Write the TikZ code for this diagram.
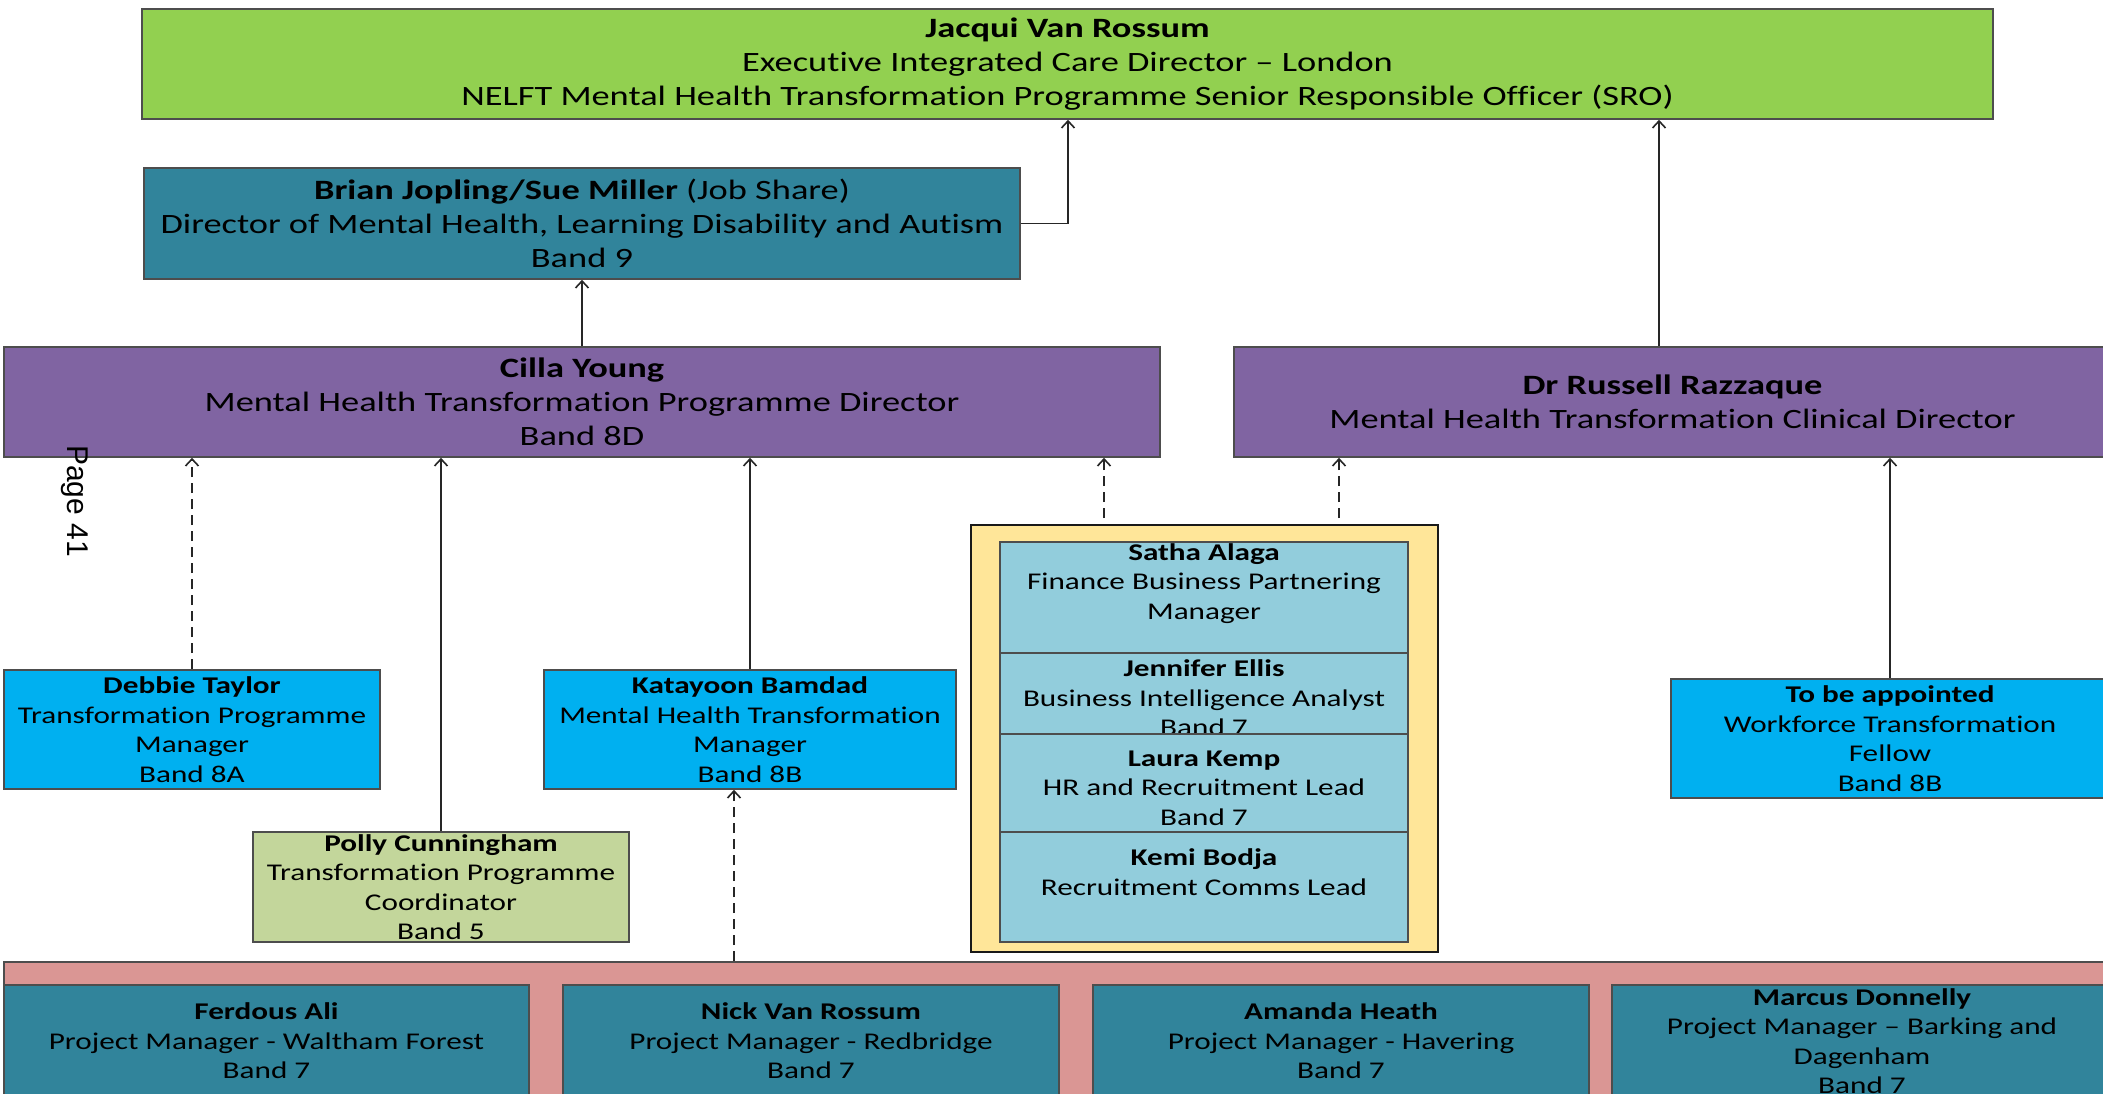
\documentclass[tikz,border=0pt]{standalone}
\usepackage{fontspec}
\setmainfont{Carlito}[FakeStretch=1.3, Ligatures={NoCommon}]
\newfontfamily\pagefont{Liberation Sans}
\usetikzlibrary{arrows.meta}

\definecolor{execgreen}{HTML}{92D050}
\definecolor{tealdark}{HTML}{31849B}
\definecolor{purplebox}{HTML}{8064A2}
\definecolor{skyblue}{HTML}{00B0F0}
\definecolor{olivelight}{HTML}{C3D69B}
\definecolor{teampale}{HTML}{FFE699}
\definecolor{aqualight}{HTML}{92CDDC}
\definecolor{rosebar}{HTML}{DA9694}
\definecolor{edgegray}{HTML}{4D4D4D}

\begin{document}
\begin{tikzpicture}[x=1pt,y=-1pt,
  box/.style={draw=edgegray, line width=1.6pt, rectangle, inner sep=0pt, align=center, text=black},
  bigtext/.style={font=\fontsize{28}{34}\selectfont},
  smalltext/.style={font=\fontsize{24}{29.5}\selectfont},
  lbl/.style={inner sep=0pt, align=center, text=black, font=\fontsize{24}{29.5}\selectfont},
  link/.style={line width=1.6pt, draw=black!85, -{Straight Barb[length=7pt,width=13pt,line width=1.6pt]}},
  dashlink/.style={link, dash pattern=on 10pt off 6pt},
]
\useasboundingbox (0,0) rectangle (2103,1093);
\fill[white] (0,0) rectangle (2103,1093);
\clip (0,0) rectangle (2103,1093);

% senior leadership
\node[box, bigtext, fill=execgreen, minimum width=1851pt, minimum height=110pt] (jacqui) at (1067.5,64)
  {\textbf{Jacqui Van Rossum}\\Executive Integrated Care Director – London\\NELFT Mental Health Transformation Programme Senior Responsible Officer (SRO)};
\node[box, bigtext, fill=tealdark, minimum width=876pt, minimum height=111pt] (brian) at (582,223.5)
  {\textbf{Brian Jopling/Sue Miller} (Job Share)\\Director of Mental Health, Learning Disability and Autism\\Band 9};
\node[box, bigtext, fill=purplebox, minimum width=1156pt, minimum height=110pt] (cilla) at (582,402)
  {\textbf{Cilla Young}\\Mental Health Transformation Programme Director\\Band 8D};
\node[box, bigtext, fill=purplebox, minimum width=877pt, minimum height=110pt] (russell) at (1672.5,402)
  {\textbf{Dr Russell Razzaque}\\Mental Health Transformation Clinical Director};

% programme team
\node[box, smalltext, fill=skyblue, minimum width=376pt, minimum height=119pt] (debbie) at (192,729.5)
  {\textbf{Debbie Taylor}\\Transformation Programme\\Manager\\Band 8A};
\node[box, smalltext, fill=skyblue, minimum width=412pt, minimum height=119pt] (katayoon) at (750,729.5)
  {\textbf{Katayoon Bamdad}\\Mental Health Transformation\\Manager\\Band 8B};
\node[box, smalltext, fill=olivelight, minimum width=376pt, minimum height=110pt] (polly) at (441,887)
  {\textbf{Polly Cunningham}\\Transformation Programme\\Coordinator\\Band 5};
\node[box, smalltext, fill=skyblue, minimum width=438pt, minimum height=119pt] (tba) at (1890,738.5)
  {\textbf{To be appointed}\\Workforce Transformation\\Fellow\\Band 8B};

% support team panel
\node[draw=black!90, line width=2.2pt, fill=teampale, minimum width=467pt, minimum height=427pt, inner sep=0pt] (team) at (1204.5,738.5) {};
\node[box, fill=aqualight, minimum width=408pt, minimum height=111pt] (satha) at (1204,597.5) {};
\node[lbl] (sathatxt) at (1204,583.5) {\textbf{Satha Alaga}\\Finance Business Partnering\\Manager};
\node[box, fill=aqualight, minimum width=408pt, minimum height=81pt] (jennifer) at (1204,693.5) {};
\node[lbl] (jennifertxt) at (1204,698) {\textbf{Jennifer Ellis}\\Business Intelligence Analyst\\Band 7};
\node[box, fill=aqualight, minimum width=408pt, minimum height=98pt] (laura) at (1204,783) {};
\node[lbl] (lauratxt) at (1204,788) {\textbf{Laura Kemp}\\HR and Recruitment Lead\\Band 7};
\node[box, fill=aqualight, minimum width=408pt, minimum height=110pt] (kemi) at (1204,887) {};
\node[lbl] (kemitxt) at (1204,872) {\textbf{Kemi Bodja}\\Recruitment Comms Lead};

% borough project managers
\node[box, fill=rosebar, minimum width=2106pt, minimum height=140pt] (projects) at (1057,1032) {};
\node[box, smalltext, fill=tealdark, minimum width=525pt, minimum height=112pt] (ferdous) at (266.5,1041)
  {\textbf{Ferdous Ali}\\Project Manager - Waltham Forest\\Band 7};
\node[box, smalltext, fill=tealdark, minimum width=496pt, minimum height=112pt] (nick) at (811,1041)
  {\textbf{Nick Van Rossum}\\Project Manager - Redbridge\\Band 7};
\node[box, smalltext, fill=tealdark, minimum width=496pt, minimum height=112pt] (amanda) at (1341,1041)
  {\textbf{Amanda Heath}\\Project Manager - Havering\\Band 7};
\node[box, smalltext, fill=tealdark, minimum width=500pt, minimum height=112pt] (marcus) at (1862,1041)
  {\textbf{Marcus Donnelly}\\Project Manager – Barking and\\Dagenham\\Band 7};

% connector anchors
\coordinate (bx) at (1068,0);
\coordinate (rx) at (1659,0);
\coordinate (ty1) at (1104,518);
\coordinate (ty2) at (1339,518);
\coordinate (px) at (734,0);

% reporting lines
\draw[link] (brian.east) -| (jacqui.south -| bx);
\draw[link] (cilla.north) -- (brian.south);
\draw[link] (russell.north -| rx) -- (jacqui.south -| rx);
\draw[dashlink] (debbie.north) -- (debbie.north |- cilla.south);
\draw[link] (polly.north) -- (polly.north |- cilla.south);
\draw[link] (katayoon.north) -- (katayoon.north |- cilla.south);
\draw[dashlink] (ty1) -- (ty1 |- cilla.south);
\draw[dashlink] (ty2) -- (ty2 |- russell.south);
\draw[link] (tba.north) -- (tba.north |- russell.south);
\draw[dashlink] (projects.north -| px) -- (px |- katayoon.south);

% page number
\node[rotate=-90, inner sep=0pt, font=\pagefont\fontsize{30}{36}\selectfont] (pagenum) at (75,501) {Page 41};
\end{tikzpicture}
\end{document}
